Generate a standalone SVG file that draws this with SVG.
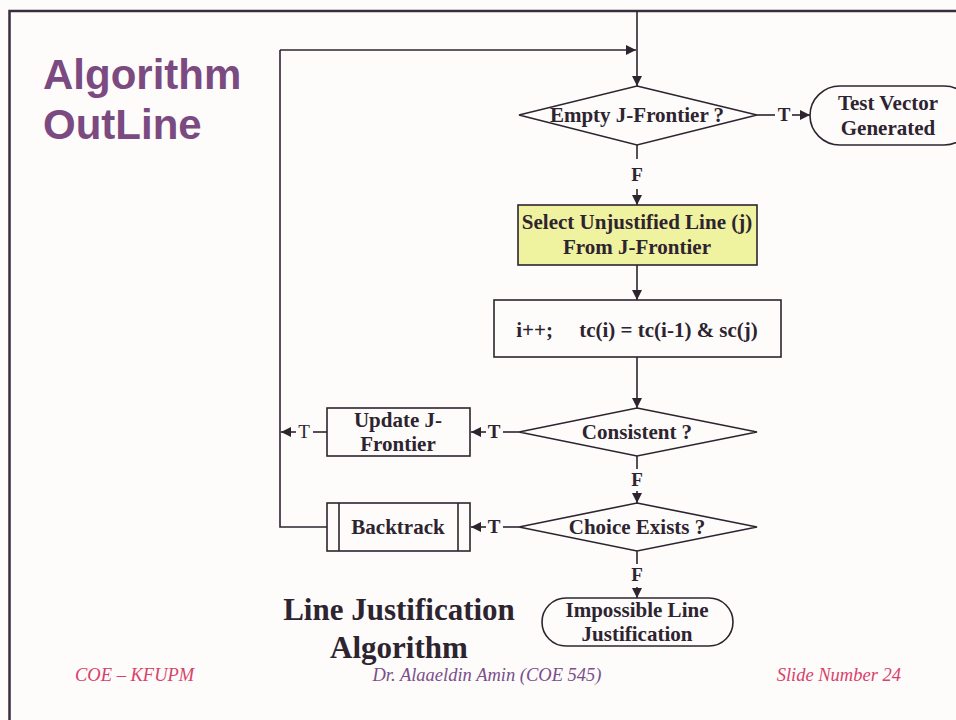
<svg xmlns="http://www.w3.org/2000/svg" width="956" height="720" viewBox="0 0 956 720">
  <style>
    .shape { fill: #fdfcfb; stroke: #2e2430; stroke-width: 1.6; }
    .line { fill: none; stroke: #2e2430; stroke-width: 1.6; }
    .lbl { font-family: "Liberation Serif", "Times New Roman", serif; font-weight: bold; font-size: 21px; fill: #2e2430; text-anchor: middle; }
    .tf { font-family: "Liberation Serif", "Times New Roman", serif; font-weight: bold; font-size: 19px; fill: #2e2430; text-anchor: middle; }
    .tn { font-family: "Liberation Serif", "Times New Roman", serif; font-size: 19px; fill: #2e2430; text-anchor: middle; }
    .foot { font-family: "Liberation Serif", "Times New Roman", serif; font-style: italic; font-size: 18.5px; }
  </style>
  <defs>
    <marker id="arrow" viewBox="0 0 10 10" refX="10" refY="5" markerWidth="10" markerHeight="10" markerUnits="userSpaceOnUse" orient="auto">
      <path d="M0,0 L10,5 L0,10 z" fill="#2e2430"/>
    </marker>
  </defs>

  <!-- slide background and frame -->
  <rect x="0" y="0" width="956" height="720" fill="#fdfcfb"/>
  <path d="M9.5,720 V11 H956" fill="none" stroke="#3a2c3c" stroke-width="2.5"/>

  <!-- slide heading -->
  <g id="heading" font-family="'Liberation Sans', Arial, sans-serif" font-weight="bold" font-size="42" fill="#7a4a80">
    <text x="43" y="89">Algorithm</text>
    <text x="43" y="139">OutLine</text>
  </g>

  <!-- connectors -->
  <g id="connectors">
    <line class="line" x1="637" y1="11" x2="637" y2="86" marker-end="url(#arrow)"/>
    <line class="line" x1="280" y1="50" x2="636" y2="50" marker-end="url(#arrow)"/>
    <!-- empty J-frontier: true -->
    <line class="line" x1="757" y1="115" x2="775" y2="115"/>
    <text class="tf" x="784" y="121">T</text>
    <line class="line" x1="792" y1="115" x2="810" y2="115" marker-end="url(#arrow)"/>
    <!-- empty J-frontier: false -->
    <line class="line" x1="637" y1="145" x2="637" y2="159"/>
    <text class="tf" x="637" y="181">F</text>
    <line class="line" x1="637" y1="189" x2="637" y2="205" marker-end="url(#arrow)"/>
    <!-- select -> assign -->
    <line class="line" x1="637" y1="265" x2="637" y2="300" marker-end="url(#arrow)"/>
    <!-- assign -> consistent -->
    <line class="line" x1="637" y1="357" x2="637" y2="408" marker-end="url(#arrow)"/>
    <!-- consistent: true -->
    <line class="line" x1="519" y1="432" x2="503" y2="432"/>
    <text class="tf" x="494" y="438">T</text>
    <line class="line" x1="486" y1="432" x2="471" y2="432" marker-end="url(#arrow)"/>
    <!-- update -> loop back -->
    <line class="line" x1="327" y1="432" x2="313" y2="432"/>
    <text class="tn" x="304" y="438">T</text>
    <line class="line" x1="296" y1="432" x2="281" y2="432" marker-end="url(#arrow)"/>
    <!-- consistent: false -->
    <line class="line" x1="637" y1="456" x2="637" y2="469"/>
    <text class="tf" x="637" y="486">F</text>
    <line class="line" x1="637" y1="491" x2="637" y2="503" marker-end="url(#arrow)"/>
    <!-- choice exists: true -->
    <line class="line" x1="519" y1="527" x2="503" y2="527"/>
    <text class="tf" x="494" y="533">T</text>
    <line class="line" x1="486" y1="527" x2="471" y2="527" marker-end="url(#arrow)"/>
    <!-- backtrack -> loop back to top -->
    <path class="line" d="M327,527 H280 V50"/>
    <!-- choice exists: false -->
    <line class="line" x1="637" y1="550" x2="637" y2="564"/>
    <text class="tf" x="637" y="581">F</text>
    <line class="line" x1="637" y1="587" x2="637" y2="598" marker-end="url(#arrow)"/>
  </g>

  <g id="empty-jfrontier">
    <polygon class="shape" points="637,86 757,115 637,145 519,115"/>
    <text class="lbl" x="637" y="122">Empty J-Frontier ?</text>
  </g>

  <g id="test-vector">
    <rect class="shape" x="810" y="86" width="164" height="59" rx="30" ry="29.5"/>
    <text class="lbl" x="888" y="110">Test Vector</text>
    <text class="lbl" x="888" y="135">Generated</text>
  </g>

  <g id="select-line">
    <rect x="518" y="205" width="239" height="60" fill="#eff29e" stroke="#2e2430" stroke-width="1.6"/>
    <text class="lbl" x="637" y="229">Select Unjustified Line (j)</text>
    <text class="lbl" x="637" y="254">From J-Frontier</text>
  </g>

  <g id="assign">
    <rect class="shape" x="494" y="300" width="287" height="57"/>
    <text class="lbl" x="637" y="337" xml:space="preserve">i++;     tc(i) = tc(i-1) &amp; sc(j)</text>
  </g>

  <g id="consistent">
    <polygon class="shape" points="637,408 757,432 637,456 519,432"/>
    <text class="lbl" x="637" y="439">Consistent ?</text>
  </g>

  <g id="update-jfrontier">
    <rect class="shape" x="327" y="408" width="143" height="48"/>
    <text class="lbl" x="398" y="427">Update J-</text>
    <text class="lbl" x="398" y="451">Frontier</text>
  </g>

  <g id="choice-exists">
    <polygon class="shape" points="637,503 757,527 637,551 519,527"/>
    <text class="lbl" x="637" y="534">Choice Exists ?</text>
  </g>

  <g id="backtrack">
    <rect class="shape" x="327" y="503" width="143" height="48"/>
    <line class="line" x1="339" y1="503" x2="339" y2="551"/>
    <line class="line" x1="458" y1="503" x2="458" y2="551"/>
    <text class="lbl" x="398" y="534">Backtrack</text>
  </g>

  <g id="impossible">
    <rect class="shape" x="542" y="598" width="191" height="48" rx="24" ry="24"/>
    <text class="lbl" x="637" y="617">Impossible Line</text>
    <text class="lbl" x="637" y="641">Justification</text>
  </g>

  <!-- caption -->
  <g id="caption" font-family="'Liberation Serif', 'Times New Roman', serif" font-weight="bold" font-size="31" fill="#2e2430" text-anchor="middle">
    <text x="399" y="620">Line Justification</text>
    <text x="399" y="658">Algorithm</text>
  </g>

  <!-- footer -->
  <g id="footer">
    <text class="foot" x="75" y="681" fill="#d8426a">COE – KFUPM</text>
    <text class="foot" x="487" y="681" fill="#7b4f8a" text-anchor="middle">Dr. Alaaeldin Amin (COE 545)</text>
    <text class="foot" x="901" y="681" fill="#d8426a" text-anchor="end">Slide Number 24</text>
  </g>
</svg>
